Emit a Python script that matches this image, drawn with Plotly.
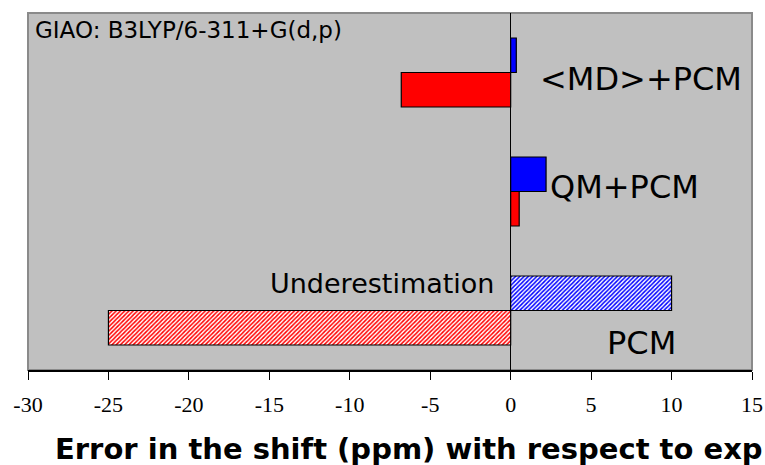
import plotly.graph_objects as go

# Error in the computed shift for each solvation model (ppm)
categories = ["PCM", "QM+PCM", "<MD>+PCM"]
red_values = [-25.0, 0.53, -6.8]
blue_values = [10.0, 2.2, 0.35]
hatched = ["/", "", ""]  # only the PCM bars are hatched

tick_vals = [-30, -25, -20, -15, -10, -5, 0, 5, 10, 15]

W, H = 765, 465
L, R, T, B = 28, 13, 13, 95
PW, PH = W - L - R, H - T - B


def px(x):
    return (x - L) / PW


def py(y):
    return (H - B - y) / PH


def bar_trace(values, colour, name):
    return go.Bar(
        y=categories, x=values, orientation="h", name=name,
        marker=dict(
            color=colour,
            line=dict(color="#000000", width=1.2),
            pattern=dict(shape=hatched, fgcolor=[colour] * 3,
                         bgcolor=["#ffffff"] * 3, fillmode="replace",
                         size=3, solidity=0.5),
        ),
    )


fig = go.Figure()
fig.add_trace(bar_trace(red_values, "#ff0000", "red"))
fig.add_trace(bar_trace(blue_values, "#0000ff", "blue"))

sans = "DejaVu Sans"
annotations = [
    dict(text="GIAO: B3LYP/6-311+G(d,p)", x=px(33), y=py(30), xanchor="left",
         font=dict(family=sans, size=23)),
    dict(text="&lt;MD&gt;+PCM", x=px(640.5), y=py(78.5), xanchor="center",
         font=dict(family=sans, size=32)),
    dict(text="QM+PCM", x=px(624.5), y=py(186.5), xanchor="center",
         font=dict(family=sans, size=32)),
    dict(text="PCM", x=px(641), y=py(343), xanchor="center",
         font=dict(family=sans, size=32)),
    dict(text="Underestimation", x=px(381.5), y=py(283), xanchor="center",
         font=dict(family=sans, size=27)),
    dict(text="<b>Error in the shift (ppm) with respect to exp</b>",
         x=px(409), y=py(449), xanchor="center",
         font=dict(family=sans, size=29)),
]
for a in annotations:
    a.update(xref="paper", yref="paper", yanchor="middle", showarrow=False)
    a["font"]["color"] = "#000000"

fig.update_layout(
    width=W, height=H,
    margin=dict(l=L, r=R, t=T, b=B, pad=0, autoexpand=False),
    paper_bgcolor="#ffffff",
    plot_bgcolor="#c0c0c0",
    barmode="group",
    bargap=0.42,
    bargroupgap=0,
    showlegend=False,
    annotations=annotations,
    shapes=[dict(type="rect", xref="paper", yref="paper", x0=0, x1=1, y0=0, y1=1,
                 line=dict(color="#8a8a8a", width=2), layer="below")],
)

fig.update_xaxes(
    range=[-30, 15], tickmode="array", tickvals=tick_vals,
    ticktext=[str(v) for v in tick_vals], automargin=False,
    showgrid=False, zeroline=True, zerolinecolor="#000000", zerolinewidth=1,
    showline=True, linecolor="#000000", linewidth=1.5,
    ticks="outside", ticklen=8, tickcolor="#000000", tickwidth=1,
    ticklabelstandoff=6,
    tickfont=dict(family="Liberation Serif", size=22, color="#000000"),
)
fig.update_yaxes(
    categoryorder="array", categoryarray=categories, automargin=False,
    showticklabels=False, showgrid=False, zeroline=False, showline=False, ticks="",
)

fig.write_html("out.html")
